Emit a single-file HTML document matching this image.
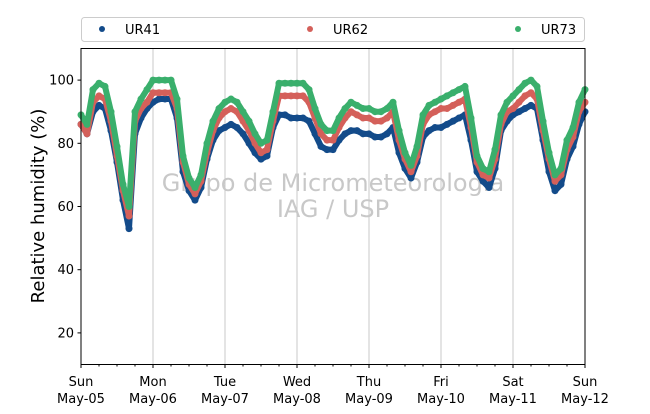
<!DOCTYPE html>
<html><head><meta charset="utf-8"><style>
body{margin:0;background:#fff;}
text{font-family:"DejaVu Sans","Liberation Sans",sans-serif;}
</style></head><body>
<svg id="c" width="650" height="409" xmlns="http://www.w3.org/2000/svg">
<rect width="650" height="409" fill="#fff"/>
<g id="grid"></g>
<text x="333" y="191" font-size="24" fill="#c8c8c8" text-anchor="middle">Grupo de Micrometeorologia</text>
<text x="333" y="217" font-size="24" fill="#c8c8c8" text-anchor="middle">IAG / USP</text>
<g id="series"></g>
<rect x="81" y="48.5" width="504" height="316" fill="none" stroke="#000" stroke-width="1"/>
<g id="axes"></g>
<text transform="translate(44,206) rotate(-90)" font-size="18" text-anchor="middle">Relative humidity (%)</text>
<g>
<rect x="81.5" y="17.5" width="503" height="24" rx="3" fill="#fff" stroke="#ccc"/>
<circle cx="102" cy="29" r="3" fill="#134b8a"/>
<text x="125" y="34" font-size="13">UR41</text>
<circle cx="310" cy="29" r="3" fill="#d4605a"/>
<text x="333" y="34" font-size="13">UR62</text>
<circle cx="518" cy="29" r="3" fill="#3aaf6c"/>
<text x="541" y="34" font-size="13">UR73</text>
</g>
</svg>
<script>
const stepHours=2;
const ur73=[89,86,97,99,98,90,79,67,60,90,94,97,100,100,100,100,94,76,69,66,70,80,87,91,93,94,93,90,87,83,80,81,90,99,99,99,99,99,97,91,86,84,84,88,91,93,92,91,91,90,90,91,93,84,77,73,79,89,92,93,94,95,96,97,98,88,76,72,71,78,89,93,95,97,99,100,98,87,77,70,72,81,85,93,97];
const ur62=[86,83,93,95,94,87,76,65,57,87,91,93,96,96,96,96,91,74,67,64,68,77,84,88,90,91,90,87,84,80,77,78,87,95,95,95,95,95,93,88,83,81,81,85,88,90,89,88,88,87,87,88,90,81,75,71,76,86,89,90,91,91,92,93,94,85,74,70,69,75,86,90,91,93,95,96,94,84,75,68,70,78,82,90,93];
const ur41=[86,83,90,92,91,84,74,62,53,83,88,91,93,94,94,94,88,71,65,62,66,75,81,84,85,86,85,83,80,77,75,76,85,89,89,88,88,88,87,83,79,78,78,81,83,84,84,83,83,82,82,83,85,77,72,69,74,82,84,85,85,86,87,88,89,81,71,68,66,72,84,87,89,90,91,92,91,81,71,65,67,75,79,86,90];
const yTicks=[20,40,60,80,100];
const dayNames=["Sun","Mon","Tue","Wed","Thu","Fri","Sat","Sun"];
const dayDates=["May-05","May-06","May-07","May-08","May-09","May-10","May-11","May-12"];
const NS="http://www.w3.org/2000/svg";
const X=h=>81+h*3;
const Y=v=>364.5-(v-10)*3.16;
function mk(t,a,p){const e=document.createElementNS(NS,t);for(const k in a)e.setAttribute(k,a[k]);p.appendChild(e);return e;}
const grid=document.getElementById('grid'),axes=document.getElementById('axes'),ser=document.getElementById('series');
dayNames.forEach((d,i)=>{
  const x=X(i*24);
  if(i>0&&i<7){const g=mk('line',{x1:x,x2:x,y1:48.5,y2:364.5,stroke:'#c8c8c8','stroke-width':1},grid);
  
  }
  const tk=mk('line',{x1:x,x2:x,y1:364.5,y2:368,stroke:'#000'},axes);
  
  
  const t1=mk('text',{x:x,y:386,'font-size':13,'text-anchor':'middle'},axes);t1.textContent=d;
  
  
  const t2=mk('text',{x:x,y:403,'font-size':13,'text-anchor':'middle'},axes);t2.textContent=dayDates[i];
  
  
  if(i<7)for(let m=1;m<4;m++){const mt=mk('line',{x1:X(i*24+m*6),x2:X(i*24+m*6),y1:364.5,y2:366.5,stroke:'#000'},axes);
  
  }
});
yTicks.forEach(v=>{
  const y=Y(v);
  const tk=mk('line',{x1:77.5,x2:81,y1:y,y2:y,stroke:'#000'},axes);
  
  
  const t=mk('text',{x:74,y:y+4.5,'font-size':13,'text-anchor':'end'},axes);t.textContent=v;
  
  
});
[[ur41,'#134b8a','ur41'],[ur62,'#d4605a','ur62'],[ur73,'#3aaf6c','ur73']].forEach(([d,c,n])=>{
  const g=mk('g',{},ser);
  
  
  const pl=mk('polyline',{points:d.map((v,i)=>X(i*stepHours)+','+Y(v)).join(' '),fill:'none',stroke:c,'stroke-width':6,'stroke-linejoin':'round','stroke-linecap':'round'},g);
  
  
  d.forEach((v,i)=>{const p=mk('circle',{cx:X(i*stepHours),cy:Y(v),r:3.5,fill:c},g);
  
  });
});
</script>
</body></html>
